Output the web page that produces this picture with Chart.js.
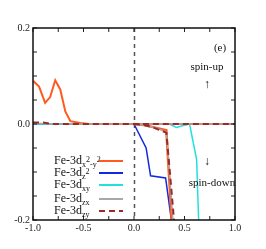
<!DOCTYPE html>
<html>
<head>
  <meta charset="utf-8" />
  <script src="https://cdn.jsdelivr.net/npm/chart.js@4.4.0/dist/chart.umd.min.js"></script>
  <style>
    html, body { margin: 0; padding: 0; background: #fff; }
    #wrap { width: 266px; height: 249px; }
  </style>
</head>
<body>
  <div id="wrap"><canvas id="c" width="266" height="249"></canvas></div>
  <script>
    // tick labels
    const xTicks = [-1.0, -0.5, 0.0, 0.5, 1.0];
    const yTicks = [-0.2, 0.0, 0.2];

    // Fe-3d x2-y2 (orange)
    const upX_x2y2 = [-1.0, -0.94, -0.88, -0.83, -0.78, -0.73, -0.68, -0.63, -0.53, -0.45, 0.0, 0.5, 1.0];
    const upY_x2y2 = [0.09, 0.078, 0.044, 0.056, 0.091, 0.072, 0.026, 0.006, 0.002, 0.0, 0.0, 0.0, 0.0];
    const dnX_x2y2 = [0.0, 0.1, 0.2, 0.32, 0.373, 0.40];
    const dnY_x2y2 = [0.0, -0.002, -0.007, -0.013, -0.2, -0.28];

    // Fe-3d z2 (blue)
    const upX_z2 = [-1.0, 0.0, 1.0];
    const upY_z2 = [0.0, 0.0, 0.0];
    const dnX_z2 = [0.0, 0.12, 0.164, 0.313, 0.37, 0.40];
    const dnY_z2 = [0.0, -0.05, -0.108, -0.1125, -0.2, -0.28];

    // Fe-3d xy (cyan)
    const upX_xy = [-1.0, 0.0, 1.0];
    const upY_xy = [0.0, 0.0, 0.0];
    const dnX_xy = [0.0, 0.35, 0.42, 0.47, 0.55, 0.62, 0.64, 0.66];
    const dnY_xy = [0.0, 0.0, -0.007, -0.004, 0.0, -0.074, -0.2, -0.3];

    // Fe-3d zx (gray)
    const upX_zx = [-1.0, -0.9, -0.8, 0.0, 1.0];
    const upY_zx = [0.001, 0.001, 0.0, 0.0, 0.0];
    const dnX_zx = [0.0, 0.1, 0.2, 0.32, 0.35, 0.385, 0.42];
    const dnY_zx = [0.0, -0.002, -0.007, -0.016, -0.1, -0.2, -0.3];

    // Fe-3d zy (dark red, dashed)
    const upX_zy = [-1.0, -0.9, -0.8, 0.0, 1.0];
    const upY_zy = [0.003, 0.003, 0.0, 0.0, 0.0];
    const dnX_zy = [0.0, 0.1, 0.2, 0.32, 0.355, 0.396, 0.43];
    const dnY_zy = [0.0, -0.002, -0.008, -0.018, -0.1, -0.2, -0.3];

    const colors = ['#ff5a1f', '#1028e0', '#22e0e0', '#a8a8a8', '#9a2a2a'];
    const labels = [
      [['Fe-3d', 0], ['x', 1], ['2', -1], ['-y', 1], ['2', -1]],
      [['Fe-3d', 0], ['z', 1], ['2', -1]],
      [['Fe-3d', 0], ['xy', 1]],
      [['Fe-3d', 0], ['zx', 1]],
      [['Fe-3d', 0], ['zy', 1]]
    ];

    function pts(xs, ys) {
      return xs.map((x, i) => ({ x: x, y: ys[i] }));
    }

    function ds(xs, ys, i, width, dash, order) {
      return {
        data: pts(xs, ys),
        borderColor: colors[i],
        borderWidth: width,
        borderDash: dash,
        pointRadius: 0,
        tension: 0,
        fill: false,
        order: order
      };
    }

    const datasets = [
      ds(upX_zy, upY_zy, 4, 2, [6, 4], 0),
      ds(dnX_zy, dnY_zy, 4, 2, [6, 4], 0),
      ds(upX_zx, upY_zx, 3, 1.5, [], 1),
      ds(dnX_zx, dnY_zx, 3, 1.5, [], 1),
      ds(upX_x2y2, upY_x2y2, 0, 2, [], 2),
      ds(dnX_x2y2, dnY_x2y2, 0, 2.5, [], 2),
      ds(upX_xy, upY_xy, 2, 1.5, [], 3),
      ds(dnX_xy, dnY_xy, 2, 1.5, [], 3),
      ds(upX_z2, upY_z2, 1, 1.5, [], 4),
      ds(dnX_z2, dnY_z2, 1, 1.5, [], 4)
    ];

    const serif = '"Liberation Serif", "DejaVu Serif", serif';

    // frame, inward ticks, dashed zero line, legend and labels
    const decor = {
      id: 'decor',
      beforeDatasetsDraw(chart) {
        const c = chart.ctx, a = chart.chartArea;
        const xs = chart.scales.x, ys = chart.scales.y;
        c.save();
        c.strokeStyle = '#555';
        c.lineWidth = 1.5;
        c.setLineDash([4, 4]);
        const x0 = Math.round(xs.getPixelForValue(0)) + 0.5;
        c.beginPath();
        c.moveTo(x0, a.top);
        c.lineTo(x0, a.bottom);
        c.stroke();
        c.restore();
      },
      afterDatasetsDraw(chart) {
        const c = chart.ctx, a = chart.chartArea;
        const xs = chart.scales.x, ys = chart.scales.y;
        c.save();
        c.strokeStyle = '#222';
        c.lineWidth = 1;
        c.beginPath();
        for (let v = -1; v <= 1.0001; v += 0.25) {
          const p = xs.getPixelForValue(v);
          c.moveTo(p, a.bottom); c.lineTo(p, a.bottom - 4);
          c.moveTo(p, a.top); c.lineTo(p, a.top + 4);
        }
        for (let v = -0.2; v <= 0.2001; v += 0.05) {
          const p = ys.getPixelForValue(v);
          c.moveTo(a.left, p); c.lineTo(a.left + 4, p);
          c.moveTo(a.right, p); c.lineTo(a.right - 4, p);
        }
        c.stroke();
        c.lineWidth = 1.5;
        c.strokeStyle = '#111';
        c.strokeRect(a.left, a.top, a.right - a.left, a.bottom - a.top);

        // legend
        const rows = [161, 173, 185, 199, 211];
        c.textBaseline = 'middle';
        c.fillStyle = '#111';
        labels.forEach((parts, i) => {
          let x = 54;
          const y = rows[i];
          parts.forEach(([t, lvl]) => {
            if (lvl === 0) {
              c.font = '12px ' + serif;
              c.fillText(t, x, y);
            } else {
              c.font = '8px ' + serif;
              c.fillText(t, x, y + (lvl > 0 ? 4 : -1));
            }
            x += c.measureText(t).width;
          });
          c.beginPath();
          c.strokeStyle = colors[i];
          c.lineWidth = 2;
          c.setLineDash(i === 4 ? [6, 4] : []);
          c.moveTo(99, y);
          c.lineTo(123, y);
          c.stroke();
        });
        c.setLineDash([]);

        // annotations
        c.textAlign = 'center';
        c.font = '11px ' + serif;
        c.fillText('(e)', 220, 48);
        c.fillText('spin-up', 207, 67);
        c.fillText('spin-down', 212, 183);
        c.font = '12px ' + serif;
        c.fillText('\u2191', 207, 85);
        c.fillText('\u2193', 207, 162);
        c.restore();
      }
    };

    new Chart(document.getElementById('c'), {
      type: 'line',
      data: { datasets: datasets },
      options: {
        responsive: false,
        animation: false,
        layout: { padding: { left: 0, right: 31, top: 28, bottom: 0 } },
        plugins: { legend: { display: false }, tooltip: { enabled: false } },
        scales: {
          x: {
            type: 'linear',
            min: -1, max: 1,
            afterBuildTicks: s => { s.ticks = xTicks.map(v => ({ value: v })); },
            afterFit: s => { s.height = 29; },
            grid: { display: false, drawTicks: false },
            border: { display: false },
            ticks: {
              padding: 2,
              color: '#222',
              font: { family: serif, size: 10 },
              callback: v => v.toFixed(1)
            }
          },
          y: {
            type: 'linear',
            min: -0.2, max: 0.2,
            afterBuildTicks: s => { s.ticks = yTicks.map(v => ({ value: v })); },
            afterFit: s => { s.width = 33; },
            grid: { display: false, drawTicks: false },
            border: { display: false },
            ticks: {
              padding: 3,
              color: '#222',
              font: { family: serif, size: 10 },
              callback: v => v.toFixed(1)
            }
          }
        }
      },
      plugins: [decor]
    });
  </script>
</body>
</html>
